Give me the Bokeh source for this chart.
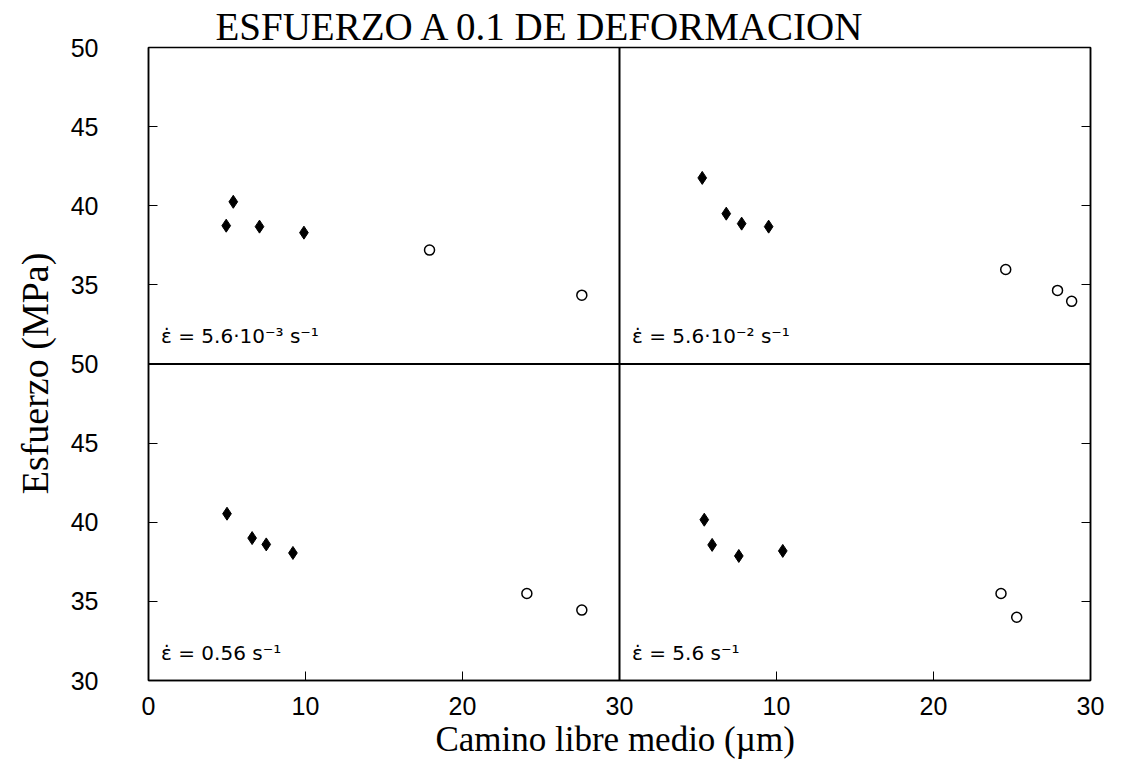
from bokeh.plotting import figure
from bokeh.models import Range1d, LinearAxis, FixedTicker, Span, ColumnDataSource
from bokeh.core.properties import value
from bokeh.embed import file_html
from bokeh.resources import INLINE

# ---- data ----
panels = ["sup_izq", "sup_der", "inf_izq", "inf_der"]
rate_labels = ["ε̇ = 5.6·10⁻³ s⁻¹", "ε̇ = 5.6·10⁻² s⁻¹", "ε̇ = 0.56 s⁻¹", "ε̇ = 5.6 s⁻¹"]

# filled diamonds
diam_x = {
    "sup_izq": [4.95, 5.4, 7.07, 9.9],
    "sup_der": [5.27, 6.8, 7.78, 9.5],
    "inf_izq": [5.0, 6.6, 7.5, 9.2],
    "inf_der": [5.4, 5.9, 7.6, 10.4],
}
diam_y = {
    "sup_izq": [38.74, 40.25, 38.68, 38.3],
    "sup_der": [41.76, 39.5, 38.87, 38.68],
    "inf_izq": [40.54, 39.0, 38.6, 38.06],
    "inf_der": [40.16, 38.57, 37.87, 38.19],
}
# open circles
circ_x = {
    "sup_izq": [17.9, 27.6],
    "sup_der": [24.6, 27.9, 28.8],
    "inf_izq": [24.1, 27.6],
    "inf_der": [24.3, 25.3],
}
circ_y = {
    "sup_izq": [37.2, 34.35],
    "sup_der": [35.97, 34.65, 33.96],
    "inf_izq": [35.5, 34.45],
    "inf_der": [35.5, 34.0],
}

x_ticks = [0, 10, 20, 30, 40, 50, 60]
x_tick_labels = ["0", "10", "20", "30", "10", "20", "30"]
y_ticks = [30, 35, 40, 45, 50, 55, 60, 65, 70]
y_tick_labels = ["30", "35", "40", "45", "50", "35", "40", "45", "50"]

# panel -> (x range name, y range name)
panel_ranges = {
    "sup_izq": ("default", "sup"),
    "sup_der": ("der", "sup"),
    "inf_izq": ("default", "default"),
    "inf_der": ("der", "default"),
}

p = figure(width=1130, height=777, output_backend="svg", toolbar_location=None,
           x_range=Range1d(0, 60), y_range=Range1d(30, 70),
           min_border_left=148, min_border_right=40, min_border_top=47, min_border_bottom=97,
           title="ESFUERZO A 0.1 DE DEFORMACION")
p.extra_x_ranges = {"der": Range1d(-30, 30)}
p.extra_y_ranges = {"sup": Range1d(10, 50)}

p.title.text_font = "Liberation Serif"
p.title.text_font_size = "39px"
p.title.text_font_style = "normal"
p.title.text_color = "black"
p.title.align = "left"
p.title.offset = 67
p.title.standoff = 0

p.grid.visible = False
p.outline_line_color = "black"
p.outline_line_width = 1.5
p.background_fill_color = "white"
p.border_fill_color = "white"

for ax in (p.xaxis[0], p.yaxis[0]):
    ax.axis_line_color = "black"
    ax.axis_line_width = 1.5
    ax.major_tick_in = 9
    ax.major_tick_out = 0
    ax.minor_tick_line_color = None
    ax.major_tick_line_color = "black"
    ax.major_label_text_font = "Liberation Sans"
    ax.major_label_text_font_size = "25px"
    ax.major_label_text_color = "black"
    ax.axis_label_text_font = "Liberation Serif"
    ax.axis_label_text_font_style = "normal"
    ax.axis_label_text_color = "black"

p.xaxis[0].ticker = FixedTicker(ticks=x_ticks)
p.xaxis[0].major_label_overrides = dict(zip(x_ticks, x_tick_labels))
p.xaxis[0].major_label_standoff = 16
p.xaxis[0].axis_label = "Camino libre medio  (µm)"
p.xaxis[0].axis_label_text_font_size = "35px"
p.xaxis[0].axis_label_standoff = 2

p.yaxis[0].ticker = FixedTicker(ticks=y_ticks)
p.yaxis[0].major_label_overrides = dict(zip(y_ticks, y_tick_labels))
p.yaxis[0].major_label_standoff = 50
p.yaxis[0].major_label_orientation = "horizontal"
p.yaxis[0].axis_label = "Esfuerzo   (MPa)"
p.yaxis[0].axis_label_text_font_size = "38px"
p.yaxis[0].axis_label_standoff = 12

right_ax = LinearAxis(ticker=FixedTicker(ticks=y_ticks),
                      major_label_overrides={t: "" for t in y_ticks})
right_ax.major_tick_in = 9
right_ax.major_tick_out = 0
right_ax.minor_tick_line_color = None
right_ax.axis_line_color = "black"
right_ax.axis_line_width = 1.5
p.add_layout(right_ax, "right")

p.add_layout(Span(location=30, dimension="height", line_color="black", line_width=2))
p.add_layout(Span(location=50, dimension="width", line_color="black", line_width=2))

for name, lab in zip(panels, rate_labels):
    xr, yr = panel_ranges[name]
    kw = {}
    if xr != "default":
        kw["x_range_name"] = xr
    if yr != "default":
        kw["y_range_name"] = yr
    p.scatter(diam_x[name], diam_y[name], marker="diamond", size=13,
              fill_color="black", line_color="black", **kw)
    p.scatter(circ_x[name], circ_y[name], marker="circle", size=10,
              fill_color=None, line_color="black", line_width=1.5, **kw)
    src = ColumnDataSource(dict(x=[0.8], y=[31.0], t=[lab]))
    p.text(x="x", y="y", text="t", source=src, text_font=value("DejaVu Sans"),
           text_font_size="20px", text_color="black", text_baseline="bottom", **kw)

open("out.html", "w").write(file_html(p, INLINE))
